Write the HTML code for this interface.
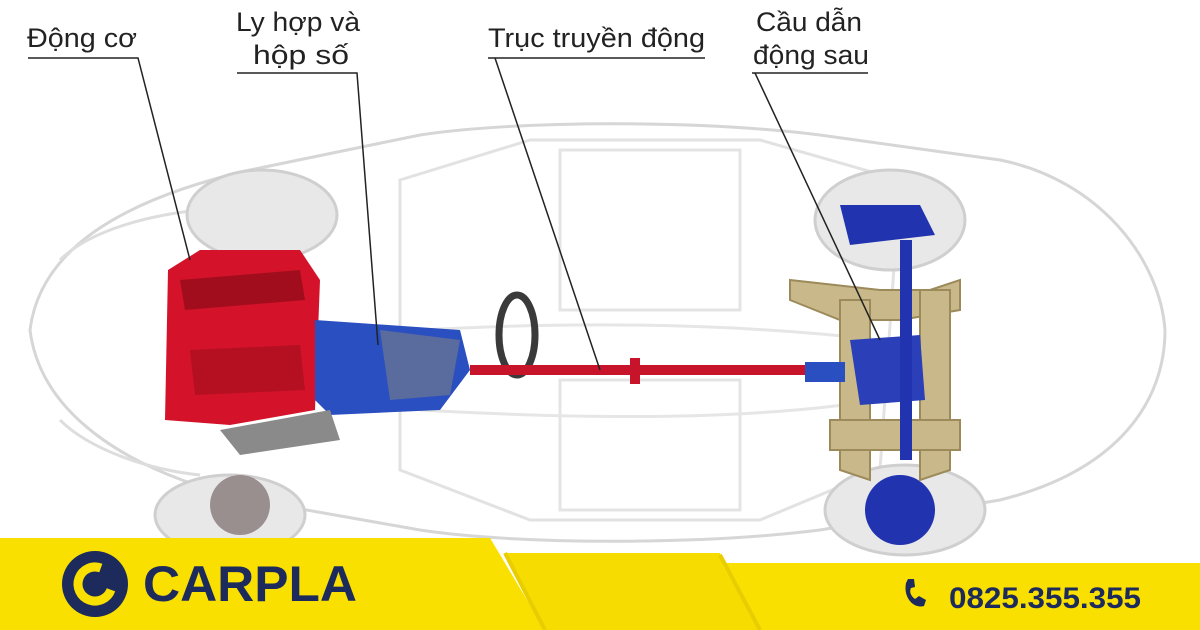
<!DOCTYPE html>
<html><head><meta charset="utf-8"><style>
html,body{margin:0;padding:0;background:#fff}
svg{display:block}
text{font-family:"Liberation Sans","Noto Sans CJK JP",sans-serif}
</style></head><body>
<svg width="1200" height="630" viewBox="0 0 1200 630" xmlns="http://www.w3.org/2000/svg">
<rect width="1200" height="630" fill="#fff"/>
<g fill="none" stroke="#d6d6d6" stroke-width="3">
<path d="M30 330 C40 250 120 200 250 170 L420 135 C520 120 700 120 820 135 L1000 160 C1100 180 1160 260 1165 330 C1165 400 1120 470 1000 500 L820 530 C700 545 520 545 420 530 L250 500 C120 470 40 410 30 330Z"/>
<path d="M400 180 L530 140 L760 140 L900 180 L880 470 L760 520 L530 520 L400 470Z" stroke="#e2e2e2"/>
<path d="M560 150 L740 150 L740 310 L560 310Z" stroke="#e4e4e4"/>
<path d="M560 380 L740 380 L740 510 L560 510Z" stroke="#e4e4e4"/>
<path d="M60 260 C90 230 150 215 200 210" stroke="#ddd"/>
<path d="M60 420 C90 450 150 470 200 475" stroke="#ddd"/>
<path d="M420 330 C600 320 750 325 880 340" stroke="#e6e6e6"/>
<path d="M420 410 C600 420 750 420 880 400" stroke="#e6e6e6"/>
</g>
<g fill="#e8e8e8" stroke="#cfcfcf" stroke-width="3">
<ellipse cx="262" cy="215" rx="75" ry="45"/>
<ellipse cx="230" cy="515" rx="75" ry="40"/>
<ellipse cx="890" cy="220" rx="75" ry="50"/>
<ellipse cx="905" cy="510" rx="80" ry="45"/>
</g>
<circle cx="240" cy="505" r="30" fill="#9a8f8f"/>
<circle cx="900" cy="510" r="35" fill="#2233b0"/>
<path d="M168 270 L200 250 L300 250 L320 280 L315 410 L230 425 L165 420Z" fill="#d4132a"/>
<path d="M180 280 L300 270 L305 300 L185 310Z" fill="#a10d1d"/>
<path d="M190 350 L300 345 L305 390 L195 395Z" fill="#b50f22"/>
<path d="M315 320 L460 330 L470 370 L440 410 L330 415 L315 400Z" fill="#2a4fc0"/>
<path d="M380 330 L460 340 L450 395 L390 400Z" fill="#5a6b9e"/>
<path d="M220 430 L330 410 L340 440 L240 455Z" fill="#8a8a8a"/>
<ellipse cx="517" cy="335" rx="18" ry="40" fill="none" stroke="#3a3a3a" stroke-width="7"/>
<rect x="470" y="365" width="360" height="10" fill="#c8142b"/>
<rect x="630" y="358" width="10" height="26" fill="#c8142b"/>
<g fill="#c9b98a" stroke="#9c8a5a" stroke-width="2">
<path d="M790 280 L880 290 L930 290 L960 280 L960 310 L900 320 L840 320 L790 300Z"/>
<path d="M840 300 L870 300 L870 480 L840 470Z"/>
<path d="M920 290 L950 290 L950 470 L920 480Z"/>
<path d="M830 420 L960 420 L960 450 L830 450Z"/>
</g>
<path d="M840 205 L920 205 L935 235 L850 245Z" fill="#2233b0"/>
<path d="M850 340 L920 335 L925 400 L860 405Z" fill="#2a3fb8"/>
<rect x="900" y="240" width="12" height="220" fill="#2233b0"/>
<rect x="805" y="362" width="40" height="20" fill="#2a4fc0"/>
<g font-size="27" fill="#222">
<text x="27" y="47" textLength="110" lengthAdjust="spacingAndGlyphs">Động cơ</text>
<text x="236" y="31" textLength="124" lengthAdjust="spacingAndGlyphs">Ly hợp và</text>
<text x="253" y="64" textLength="96" lengthAdjust="spacingAndGlyphs">hộp số</text>
<text x="488" y="47" textLength="217" lengthAdjust="spacingAndGlyphs">Trục truyền động</text>
<text x="756" y="31" textLength="106" lengthAdjust="spacingAndGlyphs">Cầu dẫn</text>
<text x="753" y="64" textLength="116" lengthAdjust="spacingAndGlyphs">động sau</text>
</g>
<g stroke="#222" stroke-width="1.5" fill="none">
<path d="M28 58 H138 L190 260"/>
<path d="M237 73 H357 L378 345"/>
<path d="M488 58 H705"/>
<path d="M495 58 L600 370"/>
<path d="M752 73 H868"/>
<path d="M755 73 L880 340"/>
</g>
<path d="M0 538 L490 538 L545 630 L0 630Z" fill="#f9e000"/>
<path d="M490 553 L720 553 L760 630 L545 630 L505 553Z" fill="#f6dc00"/>
<path d="M720 563 L1200 563 L1200 630 L760 630Z" fill="#f9e000"/>
<path d="M505 553 L545 630" stroke="#e8cd00" stroke-width="4"/>
<path d="M720 555 L760 630" stroke="#e8cd00" stroke-width="4"/>
<circle cx="95" cy="584" r="33" fill="#1c2b5c"/>
<circle cx="95" cy="584" r="17" fill="none" stroke="#f9e000" stroke-width="9" stroke-dasharray="80 27" transform="rotate(20 95 584)"/>
<text x="143" y="601" font-size="50" font-weight="bold" fill="#1c2b5c" textLength="214" lengthAdjust="spacingAndGlyphs">CARPLA</text>
<path d="M906 583 C903 598 914 609 924 606 L926 600 L919 596 L915 599 C911 596 909 592 911 588 L915 587 L914 579 L908 579Z" fill="#1c2b5c"/>
<text x="949" y="608" font-size="30" font-weight="bold" fill="#1c2b5c" textLength="192" lengthAdjust="spacingAndGlyphs">0825.355.355</text>
</svg>
</body></html>
